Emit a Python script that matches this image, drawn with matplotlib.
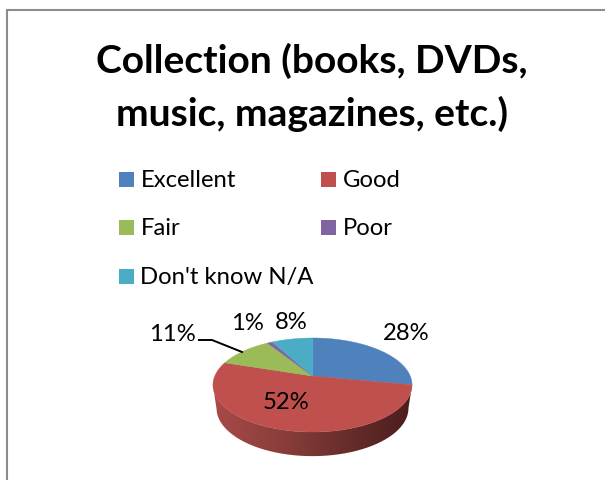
import numpy as np
import matplotlib
matplotlib.use("Agg")
import matplotlib.pyplot as plt
from matplotlib.colors import LinearSegmentedColormap
from matplotlib.patches import PathPatch, Rectangle
from matplotlib.path import Path

# Survey results
categories = ["Excellent", "Good", "Fair", "Poor", "Don't know N/A"]
values = [28, 52, 11, 1, 8]
colors = ["#4F81BD", "#C0504D", "#9BBB59", "#8064A2", "#4BACC6"]
title_lines = ["Collection (books, DVDs,", "music, magazines, etc.)"]

W, H = 605, 481
plt.rcParams["font.family"] = ["Lato", "DejaVu Sans"]
fig = plt.figure(figsize=(W / 100, H / 100), dpi=100, facecolor="white")
ax = fig.add_axes([0, 0, 1, 1])
ax.set_xlim(0, W)
ax.set_ylim(H, 0)
ax.axis("off")

# Frame: only the top and left edges fall inside the canvas
ax.plot([7, 7, W], [H, 11, 11], color="#8C8C8C", lw=1.5, solid_joinstyle="miter")

for line, y in zip(title_lines, [61, 114]):
    ax.text(312, y, line, ha="center", va="center", fontsize=28.1, fontweight="bold",
            color="black")

# Legend, two columns filled row by row
legend_x = [119, 321]
legend_y = [180, 228, 277]
for i, (name, col) in enumerate(zip(categories, colors)):
    x = legend_x[i % 2]
    y = legend_y[i // 2]
    ax.add_patch(Rectangle((x, y - 7.5), 15, 15, facecolor=col, edgecolor="none"))
    ax.text(x + 21.5, y + 1, name, ha="left", va="center", fontsize=17.2, color="black")


def project(theta, radius=97.7, cx=312.5, apex=377.0, tilt=26.9, k=0.1915, drop=0.0):
    """Perspective view of a point on the pie rim; theta runs clockwise from 12 o'clock."""
    w = 1 + k * np.cos(theta)
    return cx + radius * np.sin(theta) / w, (apex + tilt * np.cos(theta)) / w + drop


# Side wall: spans the front of the rim between its two widest points;
# the lower rim sits further down and looks slightly narrower
full = np.radians(np.linspace(101, 259, 200))
tx, ty = project(full)
bx, by = project(full, radius=94.2, tilt=26.0, drop=23.0)
wall_xy = np.column_stack([np.r_[tx, bx[::-1]], np.r_[ty, by[::-1]]])
wall = PathPatch(Path(np.vstack([wall_xy, wall_xy[0]])), facecolor="none", edgecolor="none")
ax.add_patch(wall)
shade = LinearSegmentedColormap.from_list("wall", ["#A84A48", "#8A3E3B", "#662D2B", "#4A1D1B"])
img = ax.imshow(np.linspace(0, 1, 256)[None, :], cmap=shade, aspect="auto",
                extent=(bx.min() - 3, tx.max() + 3, by.max() + 3, ty.min() - 3), zorder=2)
img.set_clip_path(wall)
ax.set_xlim(0, W)
ax.set_ylim(H, 0)

# Top face, one slice per category
apex_x, apex_y = 312.5, 377.0
edges = np.cumsum([0] + values) / sum(values) * 2 * np.pi
for start, end, col in zip(edges[:-1], edges[1:], colors):
    t = np.linspace(start, end, 120)
    sx, sy = project(t)
    ax.fill(np.r_[apex_x, sx], np.r_[apex_y, sy], color=col, lw=0.3, zorder=3)

# Data labels
label_pos = [(406, 333.5), (286, 402.5), (172, 334.5), (247, 323.5), (291, 322.5)]
for v, (lx, ly) in zip(values, label_pos):
    ax.text(lx, ly, f"{v}%", ha="center", va="center", fontsize=17.2, color="black", zorder=5)

# Leader line for the Fair slice
ax.plot([199, 212, 242], [341, 341, 353], color="black", lw=1.4, zorder=4)

fig.savefig("out.png", dpi=100, facecolor="white")
